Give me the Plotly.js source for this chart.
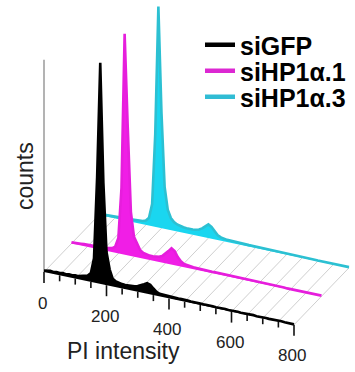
<!DOCTYPE html>
<html>
<head>
<meta charset="utf-8">
<script src="https://cdn.plot.ly/plotly-3.0.1.min.js"></script>
<style>html,body{margin:0;padding:0;background:#fff;}#chart{width:355px;height:372px;}</style>
</head>
<body>
<div id="chart"></div>
<script>
// ---------------- DATA ----------------
const PI_BINS = [0,10,20,30,40,50,60,70,80,90,100,110,120,130,140,150,160,170,180,190,200,
  210,220,230,240,250,260,270,280,290,300,310,320,330,340,350,360,370,380,390,400,
  410,420,430,440,450,460,470,480,490,500,510,520,530,540,550,560,570,580,590,600,
  610,620,630,640,650,660,670,680,690,700,710,720,730,740,750,760,770,780,790,800];

const SERIES_NAMES = ['siGFP', 'siHP1\u03b1.1', 'siHP1\u03b1.3'];

// counts (normalised to the G1 peak = 100)
const COUNTS_SIGFP = [0.6,0.9,1.1,0.9,1.2,1.0,1.3,1.1,1.4,1.2,1.5,1.4,1.7,2.0,2.6,4.0,11,48,100,46,15,
  7.5,3.5,2.6,2.2,2.0,1.9,1.9,2.0,2.2,2.6,3.2,4.0,4.8,4.4,3.0,1.8,1.2,1.1,1.0,1.1,
  0.9,1.0,0.8,0.9,0.7,0.8,0.7,0.8,0.6,0.7,0.6,0.7,0.5,0.6,0.5,0.6,0.5,0.6,0.4,0.5,
  0.4,0.5,0.4,0.5,0.4,0.4,0.5,0.3,0.4,0.3,0.4,0.3,0.4,0.3,0.3,0.4,0.3,0.3,0.2,0.2];

const COUNTS_HP1A_1 = [0.5,0.7,0.8,0.8,0.9,0.9,1.0,1.0,1.1,1.1,1.2,1.3,1.5,1.8,2.8,7,30,100,58,20,9,
  6,3.5,2.6,2.2,2.0,2.0,2.1,2.4,3.0,4.2,5.8,7.4,6.4,4.0,2.4,1.5,1.2,1.0,0.9,0.9,
  0.8,0.8,0.8,0.7,0.7,0.7,0.7,0.6,0.6,0.6,0.6,0.6,0.5,0.5,0.5,0.5,0.5,0.5,0.5,0.4,
  0.4,0.4,0.4,0.4,0.4,0.4,0.4,0.4,0.3,0.3,0.3,0.3,0.3,0.3,0.3,0.3,0.3,0.3,0.3,0.3];

const COUNTS_HP1A_3 = [0.5,0.6,0.7,0.7,0.8,0.8,0.9,0.9,0.9,1.0,1.0,1.1,1.2,1.3,1.5,2.0,3.5,10,42,100,52,
  19,9,5.5,4,3.2,2.8,2.5,2.4,2.3,2.4,2.6,3.0,3.8,5.2,6.2,5.4,3.6,2.2,1.5,1.2,
  1.0,1.0,0.9,0.9,0.8,0.8,0.8,0.7,0.7,0.7,0.6,0.6,0.6,0.6,0.5,0.5,0.5,0.5,0.5,0.5,
  0.4,0.4,0.4,0.4,0.4,0.4,0.4,0.4,0.4,0.3,0.3,0.3,0.3,0.3,0.3,0.3,0.3,0.3,0.3,0.3];

const MAJOR_TICKS = [0,200,400,600,800];
const MAJOR_TICK_LABELS = ['0','200','400','600','800'];
const MINOR_TICKS = [50,100,150,250,300,350,450,500,550,650,700,750];
const GRID_TICKS = [0,50,100,150,200,250,300,350,400,450,500,550,600,650,700,750,800];
const COUNTS_AXIS_TOP = 96;

// ---------------- STYLE / PROJECTION ----------------
const W = 355, H = 372;
const ORIGIN_PX = [44, 272];          // pixel of (PI=0, depth 0, counts 0)
const PX_PER_PI = 0.3125;             // horizontal px per PI unit
const PX_PER_COUNT = 2.21;            // vertical px per count unit
const SKEW_PX_PER_PI = 0.066;         // floor slope (px down per PI unit)
const DEPTH_PX = [27.5, -28.5];       // px offset per series row (depth)

const DEPTH_DX = DEPTH_PX[0] / PX_PER_PI;
const DEPTH_DY = -DEPTH_PX[1] / PX_PER_COUNT;
const SKEW = SKEW_PX_PER_PI / PX_PER_COUNT;
const X_RANGE = [-ORIGIN_PX[0] / PX_PER_PI, (W - ORIGIN_PX[0]) / PX_PER_PI];
const Y_RANGE = [-(H - ORIGIN_PX[1]) / PX_PER_COUNT, ORIGIN_PX[1] / PX_PER_COUNT];

function proj(v, d, c) { return [v + d * DEPTH_DX, c - v * SKEW + d * DEPTH_DY]; }

const FILLS = ['#000000', '#f01ee6', '#1ad6f0'];
const LINES = ['#000000', '#e61edc', '#2cc0d2'];
const LEGEND_LINES = ['#000000', '#dc28d2', '#30bcd4'];
const FONT = 'Arial, "Liberation Sans", Helvetica, sans-serif';

const SERIES = [COUNTS_SIGFP, COUNTS_HP1A_1, COUNTS_HP1A_3];

const traces = [];

// floor grid lines (running back in depth)
(function(){
  const x = [], y = [];
  GRID_TICKS.forEach(t => {
    const a = proj(t, 0, 0), b = proj(t, 2, 0);
    x.push(a[0], b[0], null); y.push(a[1], b[1], null);
  });
  traces.push({x, y, mode:'lines', line:{color:'#cfcfcf', width:1}, hoverinfo:'skip', showlegend:false});
})();

// counts axis (vertical)
(function(){
  const a = proj(0, 0, 0), b = proj(0, 0, COUNTS_AXIS_TOP);
  traces.push({x:[a[0], b[0]], y:[a[1], b[1]], mode:'lines', line:{color:'#9a9a9a', width:1.5}, hoverinfo:'skip', showlegend:false});
})();

// series, back to front
for (let s = 2; s >= 0; s--) {
  const counts = SERIES[s];
  const fx = [], fy = [], lx = [], ly = [];
  PI_BINS.forEach((v, i) => {
    const p = proj(v, s, counts[i]);
    fx.push(p[0]); fy.push(p[1]); lx.push(p[0]); ly.push(p[1]);
  });
  const e = proj(PI_BINS[PI_BINS.length - 1], s, 0), st = proj(PI_BINS[0], s, 0);
  fx.push(e[0], st[0]); fy.push(e[1], st[1]);
  traces.push({x:fx, y:fy, mode:'lines', fill:'toself', fillcolor:FILLS[s], line:{width:0, color:FILLS[s]}, hoverinfo:'skip', showlegend:false});
  traces.push({x:lx, y:ly, mode:'lines', line:{color:LINES[s], width:2.6}, hoverinfo:'skip', showlegend:false, name:SERIES_NAMES[s]});
}

// ticks on the front PI axis
function tickTrace(list, len) {
  const x = [], y = [];
  list.forEach(t => {
    const a = proj(t, 0, 0);
    x.push(a[0], a[0], null); y.push(a[1], a[1] - len / PX_PER_COUNT, null);
  });
  return {x, y, mode:'lines', line:{color:'#111', width:1.6}, hoverinfo:'skip', showlegend:false};
}
traces.push(tickTrace(MINOR_TICKS, 6));
traces.push(tickTrace(MAJOR_TICKS, 11));

// legend entries (one legend per row)
const LEGEND_IDS = ['legend', 'legend2', 'legend3'];
SERIES_NAMES.forEach((n, s) => {
  traces.push({x:[null], y:[null], mode:'lines', name:n, line:{color:LEGEND_LINES[s], width:4.5},
    legend:LEGEND_IDS[s], showlegend:true, hoverinfo:'skip'});
});

const annotations = MAJOR_TICKS.map((t, i) => {
  const p = proj(t, 0, 0);
  return {x:p[0], y:p[1], xref:'x', yref:'y', text:MAJOR_TICK_LABELS[i], showarrow:false,
    xanchor:'center', yanchor:'middle',
    xshift:-2, yshift:-31, font:{family:FONT, size:17, color:'#222'}};
});
annotations.push({xref:'paper', yref:'paper', x:123/W, y:1-351/H, xanchor:'center', yanchor:'middle',
  text:'PI intensity', showarrow:false, font:{family:FONT, size:23, color:'#222'}});
annotations.push({xref:'paper', yref:'paper', x:25/W, y:1-176/H, xanchor:'center', yanchor:'middle',
  text:'counts', textangle:-90, showarrow:false, font:{family:FONT, size:23, color:'#222'}});

const legendRowsY = [45, 71, 97];
const legendBase = {xanchor:'left', yanchor:'middle', x:200/W, bgcolor:'rgba(0,0,0,0)', borderwidth:0,
  font:{family:FONT, size:25, color:'#000', weight:'bold'}, itemclick:false, itemdoubleclick:false};

const layout = {
  width:W, height:H, margin:{l:0, r:0, t:0, b:0, pad:0},
  paper_bgcolor:'#fff', plot_bgcolor:'#fff',
  xaxis:{range:X_RANGE, visible:false, fixedrange:true},
  yaxis:{range:Y_RANGE, visible:false, fixedrange:true},
  showlegend:true,
  legend:Object.assign({}, legendBase, {y:1-legendRowsY[0]/H}),
  legend2:Object.assign({}, legendBase, {y:1-legendRowsY[1]/H}),
  legend3:Object.assign({}, legendBase, {y:1-legendRowsY[2]/H}),
  annotations
};

Plotly.newPlot('chart', traces, layout, {displayModeBar:false, staticPlot:true});
</script>
</body>
</html>
